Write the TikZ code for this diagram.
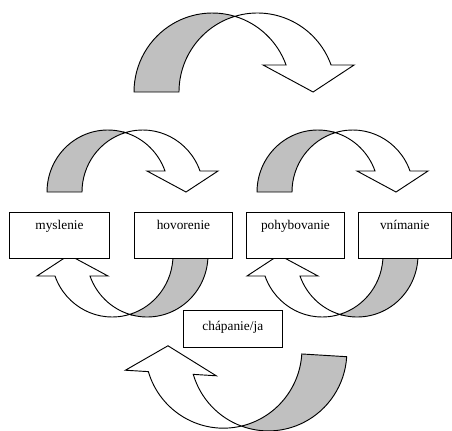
\documentclass[tikz,border=0pt]{standalone}
\usepackage{fontspec}
\setmainfont{Liberation Serif}
\usetikzlibrary{positioning}

\definecolor{tien}{RGB}{192,192,192}

% ohnuta sipka: #1 polomer x, #2 polomer y, #3 hrubka, #4 vyska hrotu, #5 kridlo
\newcommand{\ohnutasipka}[5]{%
  \pgfmathsetmacro\angA{acos(#3/(2*#1))}
  \pgfmathsetmacro\angB{180-\angA}
  \pgfmathsetmacro\angE{asin(#4/#2)}
  \pgfmathsetmacro\xIn{#1+#1*cos(\angE)}
  \pgfmathsetmacro\xOut{#1+#3+#1*cos(\angE)}
  \pgfmathsetmacro\xTip{(\xIn+\xOut)/2+0.1*#3}
  \pgfmathsetmacro\yCross{#2*sin(\angA)}
  % predna cast
  \draw[predna] (#1+#3/2,\yCross)
    arc[start angle=\angB, end angle=\angE, x radius=#1, y radius=#2]
    -- (\xOut+#5,#4) -- (\xTip,0) -- (\xIn-#5,#4) -- (\xIn,#4)
    arc[start angle=\angE, end angle=\angA, x radius=#1, y radius=#2] -- cycle;
  % zadna cast
  \draw[zadna] (0,0)
    arc[start angle=180, end angle=\angA, x radius=#1, y radius=#2]
    arc[start angle=\angB, end angle=180, x radius=#1, y radius=#2] -- cycle;
}

\begin{document}
\begin{tikzpicture}[
    x=0.75pt, y=0.75pt,
    predna/.style={draw, fill=white, line width=0.7pt},
    zadna/.style={draw, fill=tien, line width=0.7pt},
    okno/.style={draw, fill=white, line width=0.7pt, anchor=north west,
        inner xsep=0pt, inner ysep=0pt, minimum width=74pt,
        text height=12.75pt, text depth=21.75pt}
]
\useasboundingbox (0,0) rectangle (452,430);

% velka sipka hore
\begin{scope}[shift={(134,338)}]
  \ohnutasipka{78.4}{79}{45}{27}{23}
\end{scope}

% male sipky nad oknami
\begin{scope}[shift={(47,238)}]
  \ohnutasipka{60.8}{62}{35}{21}{18}
\end{scope}
\begin{scope}[shift={(257,238)}]
  \ohnutasipka{60.8}{62}{35}{21}{18}
\end{scope}

% male sipky pod oknami
\begin{scope}[shift={(208,175)}, rotate=180]
  \ohnutasipka{60.8}{62}{35}{21}{18}
\end{scope}
\begin{scope}[shift={(418,175)}, rotate=180]
  \ohnutasipka{60.8}{62}{35}{21}{18}
\end{scope}

% velka sipka dole
\begin{scope}[shift={(346.7,73.3)}, rotate=176.5]
  \ohnutasipka{78.4}{79}{45}{27}{23}
\end{scope}

% okna
\node[okno, minimum width=75pt] (myslenie) at (9,218) {myslenie};
\node[okno, minimum width=73.5pt] (hovorenie) at (134,218) {hovorenie};
\node[okno, minimum width=73.5pt] (pohybovanie) at (246,218) {pohybovanie};
\node[okno, minimum width=69.5pt] (vnimanie) at (358,218) {vnímanie};
\node[okno, minimum width=74pt, text height=15pt, text depth=12.75pt]
    (chapanie) at (183,120) {chápanie/ja};

\end{tikzpicture}
\end{document}
